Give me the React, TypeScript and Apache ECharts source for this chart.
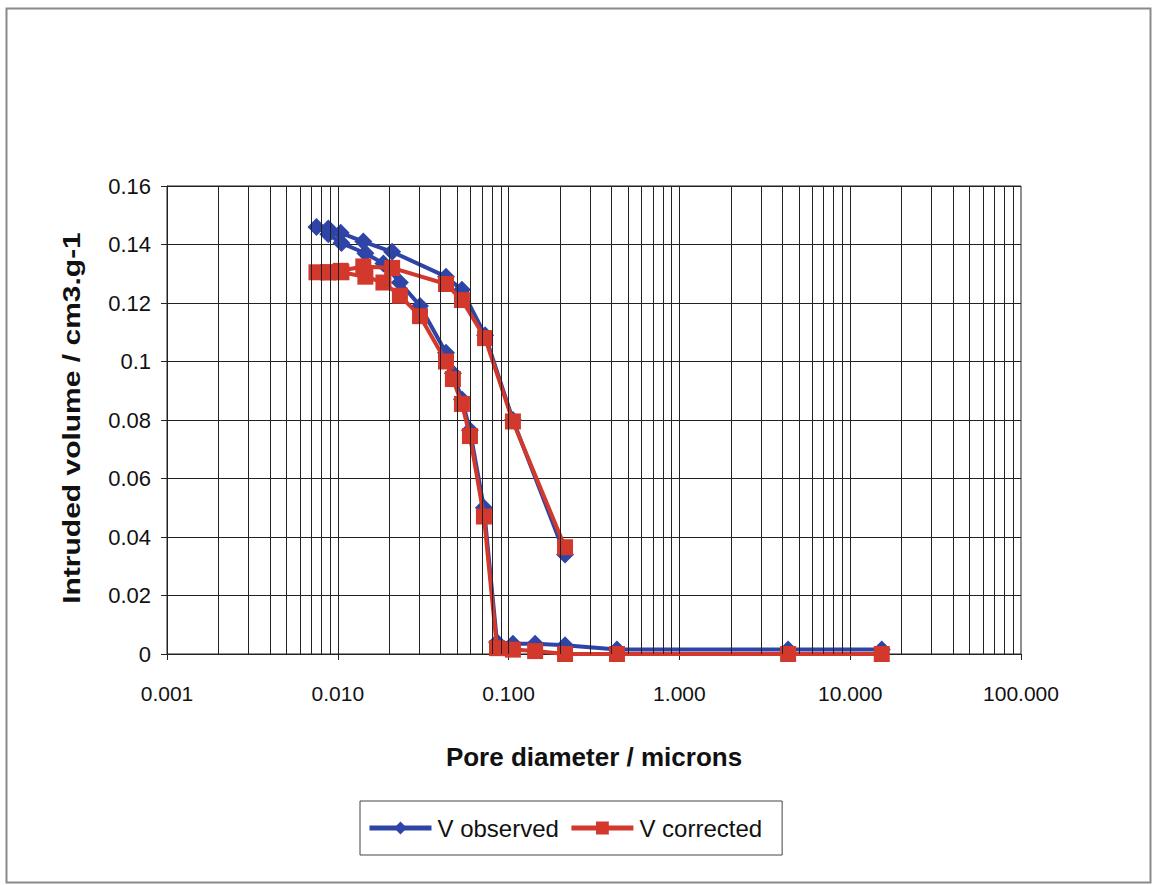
import React, { useEffect, useRef } from "react";
import * as echarts from "echarts";

const observed: [number, number][] = [
  [15.3, 0.0015], [4.33, 0.0015], [0.431, 0.0015], [0.214, 0.003], [0.143, 0.0035],
  [0.106, 0.0035], [0.0855, 0.004], [0.0717, 0.05], [0.0594, 0.0765], [0.0533, 0.087],
  [0.0472, 0.096], [0.043, 0.103], [0.0303, 0.119], [0.0231, 0.127], [0.0185, 0.1335],
  [0.0145, 0.137], [0.0105, 0.1405], [0.0088, 0.1435], [0.0075, 0.146],
  [0.0088, 0.1455], [0.0104, 0.144], [0.0141, 0.141], [0.0208, 0.1375], [0.043, 0.129],
  [0.0533, 0.1245], [0.0728, 0.109], [0.106, 0.08], [0.214, 0.034],
];

const corrected: [number, number][] = [
  [15.3, 0], [4.33, 0], [0.431, 0], [0.214, 0], [0.143, 0.001],
  [0.106, 0.0015], [0.0855, 0.002], [0.0717, 0.047], [0.0594, 0.0745], [0.0533, 0.0855],
  [0.0472, 0.094], [0.043, 0.1], [0.0303, 0.1155], [0.0231, 0.1225], [0.0185, 0.127],
  [0.0145, 0.129], [0.0105, 0.1305], [0.0088, 0.1305], [0.0075, 0.1305],
  [0.0088, 0.1305], [0.0104, 0.131], [0.0141, 0.1325], [0.0208, 0.132], [0.043, 0.1265],
  [0.0533, 0.121], [0.0728, 0.108], [0.106, 0.0795], [0.214, 0.0365],
];

const decades = [0.001, 0.01, 0.1, 1, 10];
const multiples = [2, 3, 4, 5, 6, 7, 8, 9];
const yTitle = "Intruded volume / cm3.g-1";
const xTitle = "Pore diameter / microns";

export default function App() {
  const ref = useRef<HTMLDivElement>(null);
  useEffect(() => {
    document.body.style.margin = "0";
    const chart = echarts.init(ref.current!, null, { renderer: "svg" });
    const gridXs: number[] = [];
    decades.forEach((d) => multiples.forEach((m) => gridXs.push(+(d * m).toPrecision(3))));
    [0.01, 0.1, 1, 10].forEach((d) => gridXs.push(d));
    const font = "'Liberation Sans', Arial, sans-serif";
    chart.setOption({
      animation: false,
      backgroundColor: "#fff",
      textStyle: { fontFamily: font },
      graphic: [
        {
          type: "rect",
          shape: { x: 6.5, y: 8.5, width: 1144, height: 874 },
          style: { fill: "none", stroke: "#8a8a8a", lineWidth: 2 },
          silent: true,
        },
        {
          type: "text",
          x: 72,
          y: 418,
          rotation: Math.PI / 2,
          scaleX: 1.25,
          silent: true,
          style: {
            text: yTitle,
            fontSize: 24,
            fontWeight: "bold",
            fontFamily: font,
            fill: "#111",
            align: "center",
            verticalAlign: "middle",
          },
        },
      ],
      grid: { left: 167, right: 135, top: 186, bottom: 231, show: true, borderColor: "#222", borderWidth: 1 },
      legend: {
        data: ["V observed", "V corrected"],
        left: 360,
        top: 801,
        padding: [15, 20, 15, 7],
        itemGap: 10,
        itemWidth: 62,
        itemHeight: 16,
        borderColor: "#444",
        borderWidth: 1,
        lineStyle: { width: 5 },
        textStyle: { fontSize: 24, color: "#111", fontFamily: font, padding: [0, 0, 0, 1] },
      },
      xAxis: {
        type: "log",
        logBase: 10,
        min: 0.001,
        max: 100,
        name: xTitle,
        nameLocation: "middle",
        nameGap: 90,
        nameTextStyle: { fontSize: 26, fontWeight: "bold", color: "#111", fontFamily: font },
        axisLine: { lineStyle: { color: "#222", width: 1 } },
        axisTick: { show: true, length: 6, lineStyle: { color: "#222" } },
        axisLabel: {
          fontSize: 21,
          color: "#111",
          margin: 29,
          formatter: (v: number) => v.toFixed(3),
        },
        splitLine: { show: false },
        minorTick: { show: false },
      },
      yAxis: {
        type: "value",
        min: 0,
        max: 0.16,
        interval: 0.02,
        axisLine: { show: true, lineStyle: { color: "#222", width: 1 } },
        axisTick: { show: true, length: 6, lineStyle: { color: "#222" } },
        axisLabel: {
          fontSize: 22,
          color: "#111",
          margin: 16,
          formatter: (v: number) => String(+v.toFixed(2)),
        },
        splitLine: { show: true, lineStyle: { color: "#222", width: 1 } },
      },
      series: [
        {
          name: "grid",
          type: "line",
          data: [],
          z: 1,
          silent: true,
          markLine: {
            silent: true,
            symbol: "none",
            label: { show: false },
            lineStyle: { color: "#222", width: 1, type: "solid" },
            data: gridXs.map((x) => [
              { coord: [x, 0] },
              { coord: [x, 0.16] },
            ]),
          },
        },
        {
          name: "V observed",
          type: "line",
          data: observed,
          z: 3,
          symbol: "diamond",
          symbolSize: 18,
          lineStyle: { color: "#2E44A6", width: 4 },
          itemStyle: { color: "#2E44A6" },
        },
        {
          name: "V corrected",
          type: "line",
          data: corrected,
          z: 4,
          symbol: "rect",
          symbolSize: 16,
          lineStyle: { color: "#D2382B", width: 4 },
          itemStyle: { color: "#D2382B" },
        },
      ],
    });
    return () => chart.dispose();
  }, []);
  return <div ref={ref} style={{ width: 1156, height: 885 }} />;
}
